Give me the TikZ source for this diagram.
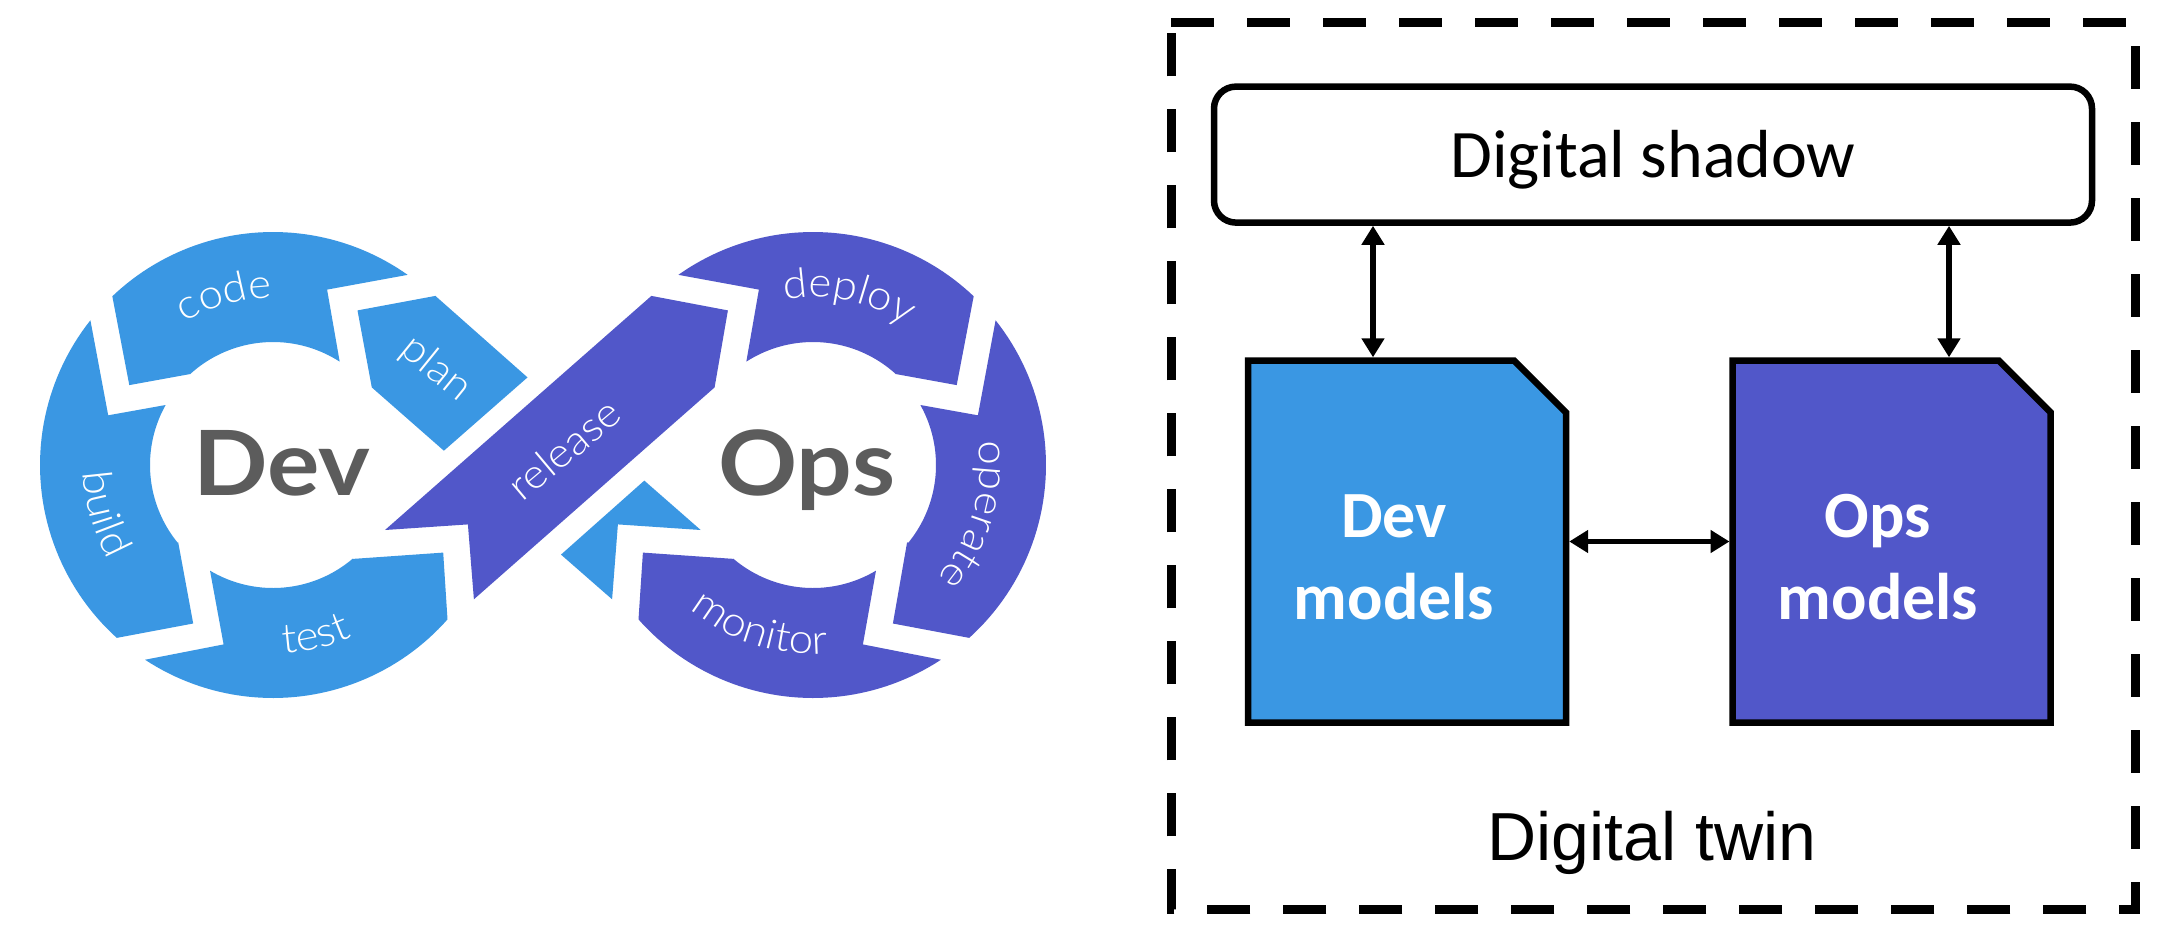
\documentclass[tikz,border=0pt]{standalone}
\usepackage{fontspec}
\usetikzlibrary{arrows.meta,decorations.text}
\setmainfont{Carlito}
\newfontfamily\latolight{Lato Light}[FakeStretch=1.07]
\newfontfamily\latobold{Lato}[BoldFont={Lato Bold},FakeStretch=1.09]
\newfontfamily\arial{Liberation Sans}
\definecolor{devblue}{RGB}{58,151,227}
\definecolor{opspurple}{RGB}{81,87,201}
\definecolor{logogray}{RGB}{92,92,92}
\tikzset{
  docbox/.style={minimum width=159pt,minimum height=181pt,inner sep=0pt,outer sep=0pt},
  docshape/.style={draw=black,line width=3.25pt,miter limit=10},
  dblarrow/.style={line width=2.8pt,shorten >=1.6pt,shorten <=1.6pt,{Triangle[length=9.5pt,width=11pt]}-{Triangle[length=9.5pt,width=11pt]}},
  doclabel/.style={text=white,font=\fontsize{33}{41}\selectfont\bfseries,align=center},
  logoword/.style={text=white,font=\latolight\fontsize{20.5}{24}\selectfont,inner sep=0pt},
  logotitle/.style={text=logogray,font=\latobold\fontsize{45}{54}\selectfont\bfseries,anchor=base,inner sep=0pt},
}
\newcommand{\arcword}[6]{%
  \path[decorate,decoration={text along path,text={|\latolight\fontsize{20.5}{24}\selectfont|#1},text color=white,text align=center}]
    plot[domain=#5:#6,samples=50] ({#2+#4*cos(\x)},{#3+#4*sin(\x)});}
\begin{document}
\begin{tikzpicture}[x=0.5pt,y=-0.5pt]
\useasboundingbox (0,0) rectangle (2174,938);
\fill[white] (0,0) rectangle (2174,938);
% Dev loop
\fill[devblue] plot[domain=-133.6:-54.7,samples=50] ({273+233*cos(\x)},{465+233*sin(\x)}) -- (327.1,289.6) -- (339.6,361.2)
  -- plot[domain=-57.3:-132.3,samples=40] ({273+123*cos(\x)},{465+123*sin(\x)}) -- (129.3,385.1) -- cycle;
\fill[devblue] (357.5,310.4) -- (435.4,295.9) -- (527.5,377.4) -- (443.9,450.7) -- (371.8,387.4) -- cycle;
\fill[devblue] plot[domain=218.4:132.1,samples=50] ({273+233*cos(\x)},{465+233*sin(\x)}) -- (193.2,623.5) -- (178.2,542.3)
  -- plot[domain=140.8:209.2,samples=40] ({273+123*cos(\x)},{465+123*sin(\x)}) -- (108.2,415.3) -- cycle;
\fill[devblue] plot[domain=123.3:41.5,samples=50] ({273+233*cos(\x)},{465+233*sin(\x)}) -- (443.2,552.6) -- (352.9,558.9)
  -- plot[domain=49.6:120.8,samples=40] ({273+123*cos(\x)},{465+123*sin(\x)}) -- (223.6,644.4) -- cycle;
\fill[devblue] (644.3,480.6) -- (700.7,530) -- (617.9,524.4) -- (612.1,599.3) -- (561,554.6) -- cycle;
% Ops loop
\fill[opspurple] (651.4,295.9) -- (727.9,310.4) -- (714.6,387.4) -- (473.9,599.3) -- (467.9,524.4) -- (385,530) -- cycle;
\fill[opspurple] plot[domain=-46.4:-125.3,samples=50] ({813+233*cos(\x)},{465+233*sin(\x)}) -- (758.9,289.6) -- (746.4,361.2)
  -- plot[domain=-122.7:-47.7,samples=40] ({813+123*cos(\x)},{465+123*sin(\x)}) -- (956.7,385.1) -- cycle;
\fill[opspurple] plot[domain=-38.4:47.9,samples=50] ({813+233*cos(\x)},{465+233*sin(\x)}) -- (892.9,623.5) -- (907.1,542.3)
  -- plot[domain=39.2:-29.2,samples=40] ({813+123*cos(\x)},{465+123*sin(\x)}) -- (977.9,415.3) -- cycle;
\fill[opspurple] plot[domain=56.7:138.5,samples=50] ({813+233*cos(\x)},{465+233*sin(\x)}) -- (642.9,552.6) -- (733.9,558.9)
  -- plot[domain=130.4:59.2,samples=40] ({813+123*cos(\x)},{465+123*sin(\x)}) -- (862.9,644.4) -- cycle;
% Logo words
\arcword{code}{273}{465}{167}{-146}{-66}
\arcword{build}{273}{465}{190}{204}{124}
\arcword{test}{273}{465}{189}{116}{36}
\arcword{deploy}{813}{465}{168}{-118}{-38}
\arcword{operate}{813}{465}{167}{-33}{67}
\arcword{monitor}{813}{465}{189}{158}{58}
\node[logoword,rotate=-39] (planword) at (436,369) {plan};
\node[logoword,rotate=40] (releaseword) at (564,449) {release};
\node[logotitle] (devword) at (282,495) {Dev};
\node[logotitle] (opsword) at (807,495) {Ops};
% Digital twin frame
\draw[line width=4.5pt,dash pattern=on 21.5pt off 16.5pt] (1171,22.7) -- (2135.5,22.7) -- (2135.5,909) -- (1171,909) -- cycle;
\node[draw=black,line width=3.25pt,rounded corners=11pt,minimum width=439pt,minimum height=68pt,inner sep=0pt,outer sep=0pt,
  text height=22.5pt,text depth=0pt,font=\fontsize{34}{40}\selectfont] (shadow) at (1653,154.6) {Digital shadow};
\node[docbox] (devbox) at (1407,541.5) {};
\node[docbox] (opsbox) at (1891.7,541.5) {};
\path[docshape,fill=devblue] (devbox.north west) -- ([xshift=-26pt]devbox.north east) -- ([yshift=-26pt]devbox.north east) -- (devbox.south east) -- (devbox.south west) -- cycle;
\path[docshape,fill=opspurple] (opsbox.north west) -- ([xshift=-26pt]opsbox.north east) -- ([yshift=-26pt]opsbox.north east) -- (opsbox.south east) -- (opsbox.south west) -- cycle;
\node[doclabel] (devtext) at (1394,557) {Dev\\models};
\node[doclabel] (opstext) at (1878,557) {Ops\\models};
\node[font=\arial\fontsize{34}{40}\selectfont,anchor=base,inner sep=0pt] (twin) at (1652,860) {Digital twin};
\coordinate (leftx) at (1373,300);
\coordinate (rightx) at (1949,300);
\draw[dblarrow] (shadow.south -| leftx) -- (devbox.north -| leftx);
\draw[dblarrow] (shadow.south -| rightx) -- (opsbox.north -| rightx);
\draw[dblarrow] (devbox.east) -- (opsbox.west);
\end{tikzpicture}
\end{document}
